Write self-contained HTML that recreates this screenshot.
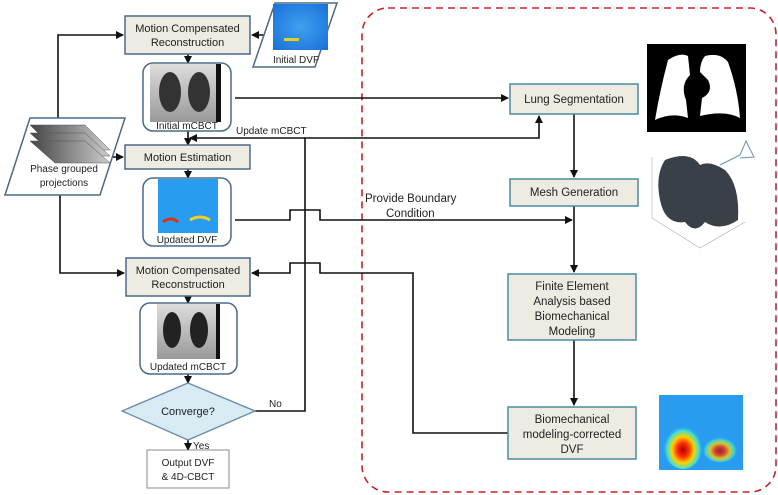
<!DOCTYPE html>
<html><head><meta charset="utf-8"><style>
body{margin:0;background:#fff}
svg{display:block}
text{font-family:"Liberation Sans",sans-serif;fill:#222}
</style></head><body>
<svg width="778" height="495" viewBox="0 0 778 495" xmlns="http://www.w3.org/2000/svg">
<defs>
<marker id="a" markerWidth="8" markerHeight="8" refX="7" refY="4" orient="auto" markerUnits="userSpaceOnUse"><path d="M0,0 L8,4 L0,8z" fill="#111"/></marker>
<radialGradient id="dvf" cx="0.5" cy="0.5" r="0.7"><stop offset="0" stop-color="#3fa0f0"/><stop offset="1" stop-color="#1a70d8"/></radialGradient>
<radialGradient id="hot" cx="0.5" cy="0.6" r="0.5"><stop offset="0" stop-color="#b00000"/><stop offset="0.3" stop-color="#ff3000"/><stop offset="0.55" stop-color="#ffd000"/><stop offset="0.8" stop-color="#40e0d0"/><stop offset="1" stop-color="#30a0f0" stop-opacity="0"/></radialGradient>
<linearGradient id="ct" x1="0" y1="0" x2="0" y2="1"><stop offset="0" stop-color="#ddd"/><stop offset="1" stop-color="#999"/></linearGradient>
<linearGradient id="pj" x1="0" y1="0" x2="1" y2="0"><stop offset="0" stop-color="#444"/><stop offset="1" stop-color="#ccc"/></linearGradient>
</defs>
<rect x="362" y="8" width="414" height="484" rx="26" fill="none" stroke="#c8232a" stroke-width="1.6" stroke-dasharray="7,5"/>

<g stroke="#111" stroke-width="1.6" fill="none">
<path d="M58,118 V35 H123" marker-end="url(#a)"/>
<path d="M270,35 H252" marker-end="url(#a)"/>
<path d="M188,54 V63" marker-end="url(#a)"/>
<path d="M188,131 V145" marker-end="url(#a)"/>
<path d="M110,157 H123" marker-end="url(#a)"/>
<path d="M188,169 V178" marker-end="url(#a)"/>
<path d="M60,195 V273 H124" marker-end="url(#a)"/>
<path d="M188,296 V303" marker-end="url(#a)"/>
<path d="M188,374 V383" marker-end="url(#a)"/>
<path d="M188,440 V450" marker-end="url(#a)"/>
<path d="M235,98 H508" marker-end="url(#a)"/>
<path d="M255,411 H305 V138 H539 V116" marker-end="url(#a)"/>
<path d="M305,138 H190" marker-end="url(#a)"/>
<path d="M235,220 H290 V210 H320 V220 H572" marker-end="url(#a)"/>
<path d="M574,114 V177" marker-end="url(#a)"/>
<path d="M574,206 V272" marker-end="url(#a)"/>
<path d="M574,340 V405" marker-end="url(#a)"/>
<path d="M508,433 H413 V273 H320 V263 H290 V273 H252" marker-end="url(#a)"/>
</g>

<g stroke="#4a6a8a" stroke-width="1.5">
<rect x="125" y="16" width="125" height="38" fill="#eeebe2"/>
<rect x="125" y="145" width="125" height="24" fill="#eeebe2"/>
<rect x="126" y="258" width="124" height="38" fill="#eeebe2"/>
<rect x="143" y="63" width="88" height="68" rx="10" fill="#fff"/>
<rect x="143" y="178" width="88" height="68" rx="10" fill="#fff"/>
<rect x="140" y="303" width="97" height="71" rx="10" fill="#fff"/>
</g>
<text x="187.5" y="32" font-size="11" text-anchor="middle">Motion Compensated</text>
<text x="187.5" y="46" font-size="11" text-anchor="middle">Reconstruction</text>
<text x="187.5" y="161" font-size="11" text-anchor="middle">Motion Estimation</text>
<text x="188" y="274" font-size="11" text-anchor="middle">Motion Compensated</text>
<text x="188" y="288" font-size="11" text-anchor="middle">Reconstruction</text>

<rect x="150" y="64" width="70" height="58" fill="url(#ct)"/>
<rect x="216" y="64" width="5" height="58" fill="#111"/>
<ellipse cx="170" cy="92" rx="11" ry="20" fill="#333"/>
<ellipse cx="199" cy="92" rx="11" ry="20" fill="#333"/>
<text x="187" y="129" font-size="10" text-anchor="middle">Initial mCBCT</text>
<rect x="158" y="179" width="60" height="54" fill="#2a9cf0"/>
<path d="M163,222 q8,-6 15,0" stroke="#e03010" stroke-width="3" fill="none"/>
<path d="M190,220 q10,-6 20,0" stroke="#f0d020" stroke-width="3" fill="none"/>
<text x="187" y="243" font-size="10" text-anchor="middle">Updated DVF</text>
<rect x="157" y="304" width="63" height="55" fill="url(#ct)"/>
<rect x="216" y="304" width="4" height="55" fill="#111"/>
<ellipse cx="172" cy="330" rx="9" ry="18" fill="#222"/>
<ellipse cx="199" cy="330" rx="9" ry="18" fill="#222"/>
<text x="188" y="370" font-size="10" text-anchor="middle">Updated mCBCT</text>

<polygon points="275,3 337,3 315,67 253,67" fill="#fff" stroke="#4a6a8a" stroke-width="1.5"/>
<rect x="273" y="4" width="55" height="46" fill="url(#dvf)"/>
<rect x="284" y="38" width="15" height="3" fill="#e0d020"/>
<text x="296" y="63" font-size="10" text-anchor="middle">Initial DVF</text>

<polygon points="30,118 125,118 100,195 5,195" fill="#fff" stroke="#4a6a8a" stroke-width="1.5"/>
<g stroke="#555" stroke-width="0.5">
<polygon points="30,125 85,125 110,150 55,150" fill="url(#pj)"/>
<polygon points="30,133 85,133 110,156 55,156" fill="url(#pj)"/>
<polygon points="30,141 85,141 110,163 55,163" fill="url(#pj)"/>
</g>
<text x="64" y="172" font-size="10" text-anchor="middle">Phase grouped</text>
<text x="64" y="186" font-size="10" text-anchor="middle">projections</text>

<polygon points="188,383 255,411 188,440 122,411" fill="#d8eaf2" stroke="#6a8aa8" stroke-width="1.3"/>
<text x="188" y="415" font-size="11" text-anchor="middle">Converge?</text>
<text x="269" y="407" font-size="10">No</text>
<text x="193" y="449" font-size="10">Yes</text>
<rect x="147" y="450" width="82" height="38" fill="#fff" stroke="#888" stroke-width="1"/>
<text x="188" y="466" font-size="10" text-anchor="middle">Output DVF</text>
<text x="188" y="480" font-size="10" text-anchor="middle">&amp; 4D-CBCT</text>
<text x="236" y="134" font-size="10">Update mCBCT</text>
<text x="365" y="202" font-size="11.5">Provide Boundary</text>
<text x="386" y="217" font-size="11.5">Condition</text>

<g stroke="#4a8aa0" stroke-width="1.5" fill="#eeebe2">
<rect x="510" y="84" width="128" height="30"/>
<rect x="510" y="179" width="128" height="27"/>
<rect x="508" y="274" width="128" height="66"/>
<rect x="508" y="407" width="128" height="52"/>
</g>
<g font-size="11.5" text-anchor="middle">
<text x="574" y="103">Lung Segmentation</text>
<text x="574" y="196">Mesh Generation</text>
<text x="572" y="290">Finite Element</text>
<text x="572" y="305">Analysis based</text>
<text x="572" y="320">Biomechanical</text>
<text x="572" y="335">Modeling</text>
<text x="572" y="423">Biomechanical</text>
<text x="572" y="438">modeling-corrected</text>
<text x="572" y="453">DVF</text>
</g>

<rect x="647" y="44" width="99" height="88" fill="#000"/>
<path d="M668,60 Q680,52 688,56 L690,75 Q680,85 686,100 L688,118 Q672,112 655,120 Q660,90 668,60z" fill="#fff"/>
<path d="M705,56 Q720,52 728,62 Q738,90 740,118 Q725,110 700,116 L702,98 Q714,92 708,80 L700,72 Q700,62 705,56z" fill="#fff"/>

<g stroke="#aaa" stroke-width="0.6" fill="none"><path d="M652,157 V218 L700,248 L745,222"/></g>
<path d="M665,160 Q690,150 700,165 Q710,160 725,170 Q740,185 738,220 Q720,232 705,222 Q695,235 685,222 Q665,225 660,200 Q655,175 665,160z" fill="#3a4048"/>
<path d="M720,165 L740,155 M740,155 L746,141 L754,157 L740,158" stroke="#6a90c0" stroke-width="1" fill="none"/>

<rect x="659" y="395" width="84" height="75" fill="#2a9cf0"/>
<ellipse cx="683" cy="445" rx="20" ry="24" fill="url(#hot)"/>
<ellipse cx="720" cy="448" rx="18" ry="14" fill="url(#hot)" opacity="0.8"/>
</svg>
</body></html>
